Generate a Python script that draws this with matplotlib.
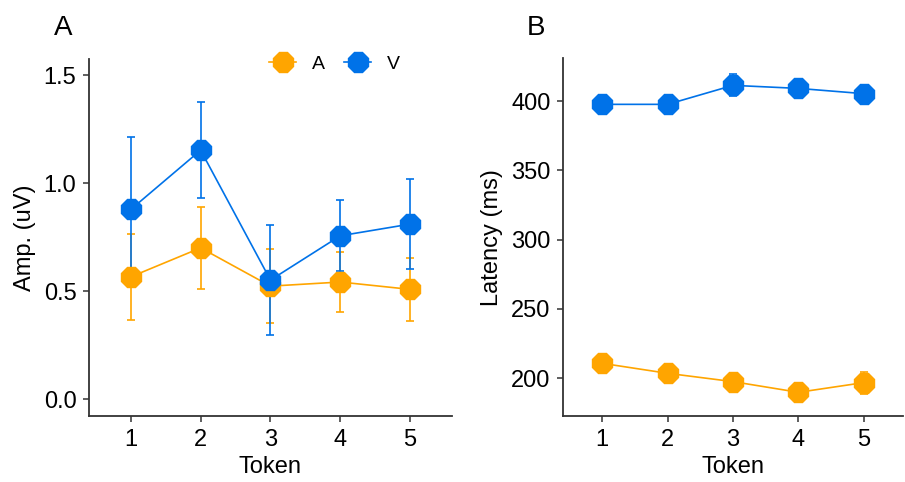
import matplotlib
matplotlib.use("Agg")
import matplotlib.pyplot as plt
from matplotlib.lines import Line2D

plt.rcParams['font.family'] = ['Liberation Sans', 'DejaVu Sans']

tokens = [1, 2, 3, 4, 5]

# panel A: amplitude (uV), mean and error
amp_a = [0.567, 0.701, 0.524, 0.543, 0.509]
amp_a_err = [0.200, 0.190, 0.170, 0.138, 0.145]
amp_v = [0.879, 1.153, 0.552, 0.757, 0.811]
amp_v_err = [0.336, 0.222, 0.255, 0.165, 0.207]

# panel B: latency (ms), mean and error
lat_a = [210.8, 203.6, 197.6, 189.9, 196.9]
lat_a_err = [5, 4, 4, 4, 8]
lat_v = [397.6, 397.6, 411.3, 409.1, 405.3]
lat_v_err = [4, 4, 8, 5, 5]

col_a = '#FFA500'
col_v = '#0072E8'
axis_col = '#333333'

fig = plt.figure(figsize=(9.05, 4.82), dpi=100)
axA = fig.add_axes([0.0983, 0.1369, 0.4011, 0.7407])
axB = fig.add_axes([0.622, 0.1369, 0.376, 0.7421])


def draw(ax, ya, ea, yv, ev):
    for y, e, c, lab in [(ya, ea, col_a, 'A'), (yv, ev, col_v, 'V')]:
        ax.errorbar(tokens, y, yerr=e, color=c, lw=1.2, elinewidth=1.2,
                    capsize=3, capthick=1.2, marker='8', ms=15, mec=c,
                    label=lab, zorder=3)
    for s in ['top', 'right']:
        ax.spines[s].set_visible(False)
    for s in ['left', 'bottom']:
        ax.spines[s].set_color(axis_col)
        ax.spines[s].set_linewidth(1.3)
    ax.tick_params(colors=axis_col, labelcolor='black', labelsize=17,
                   length=4, width=1.1, pad=5)
    ax.set_xticks(tokens)
    ax.set_xlim(0.4, 5.6)
    ax.set_xlabel('Token', fontsize=17, va='center')
    ax.xaxis.set_label_coords(0.5, -0.143)


draw(axA, amp_a, amp_a_err, amp_v, amp_v_err)
axA.set_ylim(-0.077, 1.575)
axA.set_yticks([0.0, 0.5, 1.0, 1.5])
axA.set_yticklabels(['0.0', '0.5', '1.0', '1.5'])
axA.set_ylabel('Amp. (uV)', fontsize=17, va='center')
axA.yaxis.set_label_coords(-0.176, 0.5)

# legend handles without the errorbar caps
handles = [Line2D([], [], color=c, lw=1.2, marker='8', ms=15, mec=c)
           for c in (col_a, col_v)]
axA.legend(handles, ['A', 'V'], loc='upper right', ncol=2, frameon=False,
           fontsize=14, bbox_to_anchor=(0.905, 1.06), handlelength=1.4,
           columnspacing=1.0, handletextpad=0.8)

draw(axB, lat_a, lat_a_err, lat_v, lat_v_err)
axB.set_ylim(172.8, 430.8)
axB.set_yticks([200, 250, 300, 350, 400])
axB.set_ylabel('Latency (ms)', fontsize=17, va='center')
axB.yaxis.set_label_coords(-0.209, 0.5)

fig.text(0.06, 0.942, 'A', fontsize=20, ha='left', va='center')
fig.text(0.582, 0.942, 'B', fontsize=20, ha='left', va='center')

fig.savefig('out.png', dpi=100)
